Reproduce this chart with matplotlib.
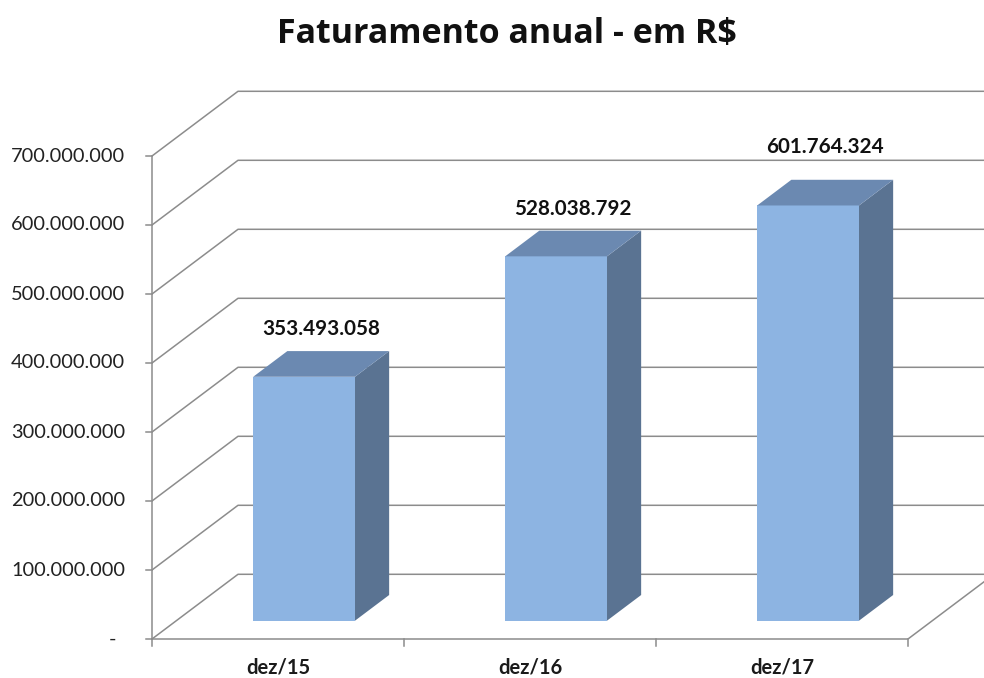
import matplotlib
matplotlib.use("Agg")
import matplotlib.pyplot as plt
from matplotlib.patches import Polygon

# ---- data ----
categories = ["dez/15", "dez/16", "dez/17"]
values = [353493058, 528038792, 601764324]
value_labels = ["353.493.058", "528.038.792", "601.764.324"]
tick_values = [0, 100e6, 200e6, 300e6, 400e6, 500e6, 600e6, 700e6]
tick_labels = ["-", "100.000.000", "200.000.000", "300.000.000",
               "400.000.000", "500.000.000", "600.000.000", "700.000.000"]
title = "Faturamento anual - em R$"

# ---- layout / style ----
W, H, DPI = 984, 678, 100
X0_PX, CAT_PX = 152, 252          # front axis left, category width (px)
Y0_PX, UNIT_PX = 639, 69.0        # zero line (px from top), px per 100M
DX = 86 / CAT_PX                  # depth offset in category units
DY = 64.7 / UNIT_PX * 1e8         # depth offset in value units
BAR_X, BAR_W = 0.305, 0.404       # bar position inside category
D_FRONT, D_BACK = 0.283, 0.68     # bar depth range (fraction of depth)
FONT = ["Lato", "DejaVu Sans"]
TITLE_FONT = ["Open Sans", "DejaVu Sans"]
GRID = "#8c8c8c"
C_FRONT, C_SIDE, C_TOP = "#8db4e2", "#5a7392", "#6b89b1"
label_offsets_px = [22, 22, 33]

fig = plt.figure(figsize=(W / DPI, H / DPI), dpi=DPI)
ax = fig.add_axes([0, 0, 1, 1])
ax.set_xlim(-X0_PX / CAT_PX, (W - X0_PX) / CAT_PX)
ax.set_ylim((Y0_PX - H) / UNIT_PX * 1e8, Y0_PX / UNIT_PX * 1e8)
ax.axis("off")

ncat = len(categories)
lw = 1.1
xr = ncat + DX + 1  # beyond right edge

# gridlines: diagonal on left wall + horizontal on back wall
for v in tick_values:
    ax.plot([0, DX, xr], [v, v + DY, v + DY], color=GRID, lw=lw, zorder=1,
            solid_capstyle="butt")
# floor front edge and right edge
ax.plot([0, ncat, ncat + DX], [0, 0, DY], color=GRID, lw=lw, zorder=1)
# front vertical axis
ax.plot([0, 0], [0, tick_values[-1]], color=GRID, lw=lw, zorder=1)
# y tick marks
tick_len = 6 / CAT_PX
for v, lab in zip(tick_values, tick_labels):
    ax.plot([-tick_len, 0], [v, v], color=GRID, lw=lw, zorder=1)
    if lab == "-":
        ax.text((116 - X0_PX) / CAT_PX, v, lab, ha="right", va="center",
                fontsize=14.4, family=FONT, color="#222222")
    else:
        ax.text((125 - X0_PX) / CAT_PX, v, lab, ha="right", va="center",
                fontsize=14.4, family=FONT, color="#222222")
# x tick marks
tick_h = 7 / UNIT_PX * 1e8
for i in range(ncat + 1):
    ax.plot([i, i], [0, -tick_h], color=GRID, lw=lw, zorder=1)
for i, c in enumerate(categories):
    ax.text(i + 0.5, -29 / UNIT_PX * 1e8, c, ha="center", va="center",
            fontsize=14.5, family=FONT, fontweight="bold", color="#1a1a1a")

# bars
for i, (v, lab, off) in enumerate(zip(values, value_labels, label_offsets_px)):
    xl = i + BAR_X
    xrb = xl + BAR_W
    fx, fy = D_FRONT * DX, D_FRONT * DY
    bx, by = D_BACK * DX, D_BACK * DY
    front = Polygon([(xl + fx, fy), (xrb + fx, fy), (xrb + fx, v + fy), (xl + fx, v + fy)],
                    closed=True, facecolor=C_FRONT, edgecolor="none", zorder=3)
    side = Polygon([(xrb + fx, fy), (xrb + bx, by), (xrb + bx, v + by), (xrb + fx, v + fy)],
                   closed=True, facecolor=C_SIDE, edgecolor="none", zorder=3)
    top = Polygon([(xl + fx, v + fy), (xrb + fx, v + fy), (xrb + bx, v + by), (xl + bx, v + by)],
                  closed=True, facecolor=C_TOP, edgecolor="none", zorder=3)
    for p in (front, side, top):
        ax.add_patch(p)
    cx = (xl + xrb) / 2 + (fx + bx) / 2
    ax.annotate(lab, xy=(cx, v + by), xytext=(0, off), textcoords="offset pixels",
                ha="center", va="center", fontsize=14.9, family=FONT,
                fontweight="bold", color="#111111", zorder=5)

fig.text(507 / W, 1 - 43 / H, title, ha="center", va="baseline", fontsize=24.5,
         family=TITLE_FONT, fontweight="bold", color="#111111")

fig.savefig("out.png", dpi=DPI)
